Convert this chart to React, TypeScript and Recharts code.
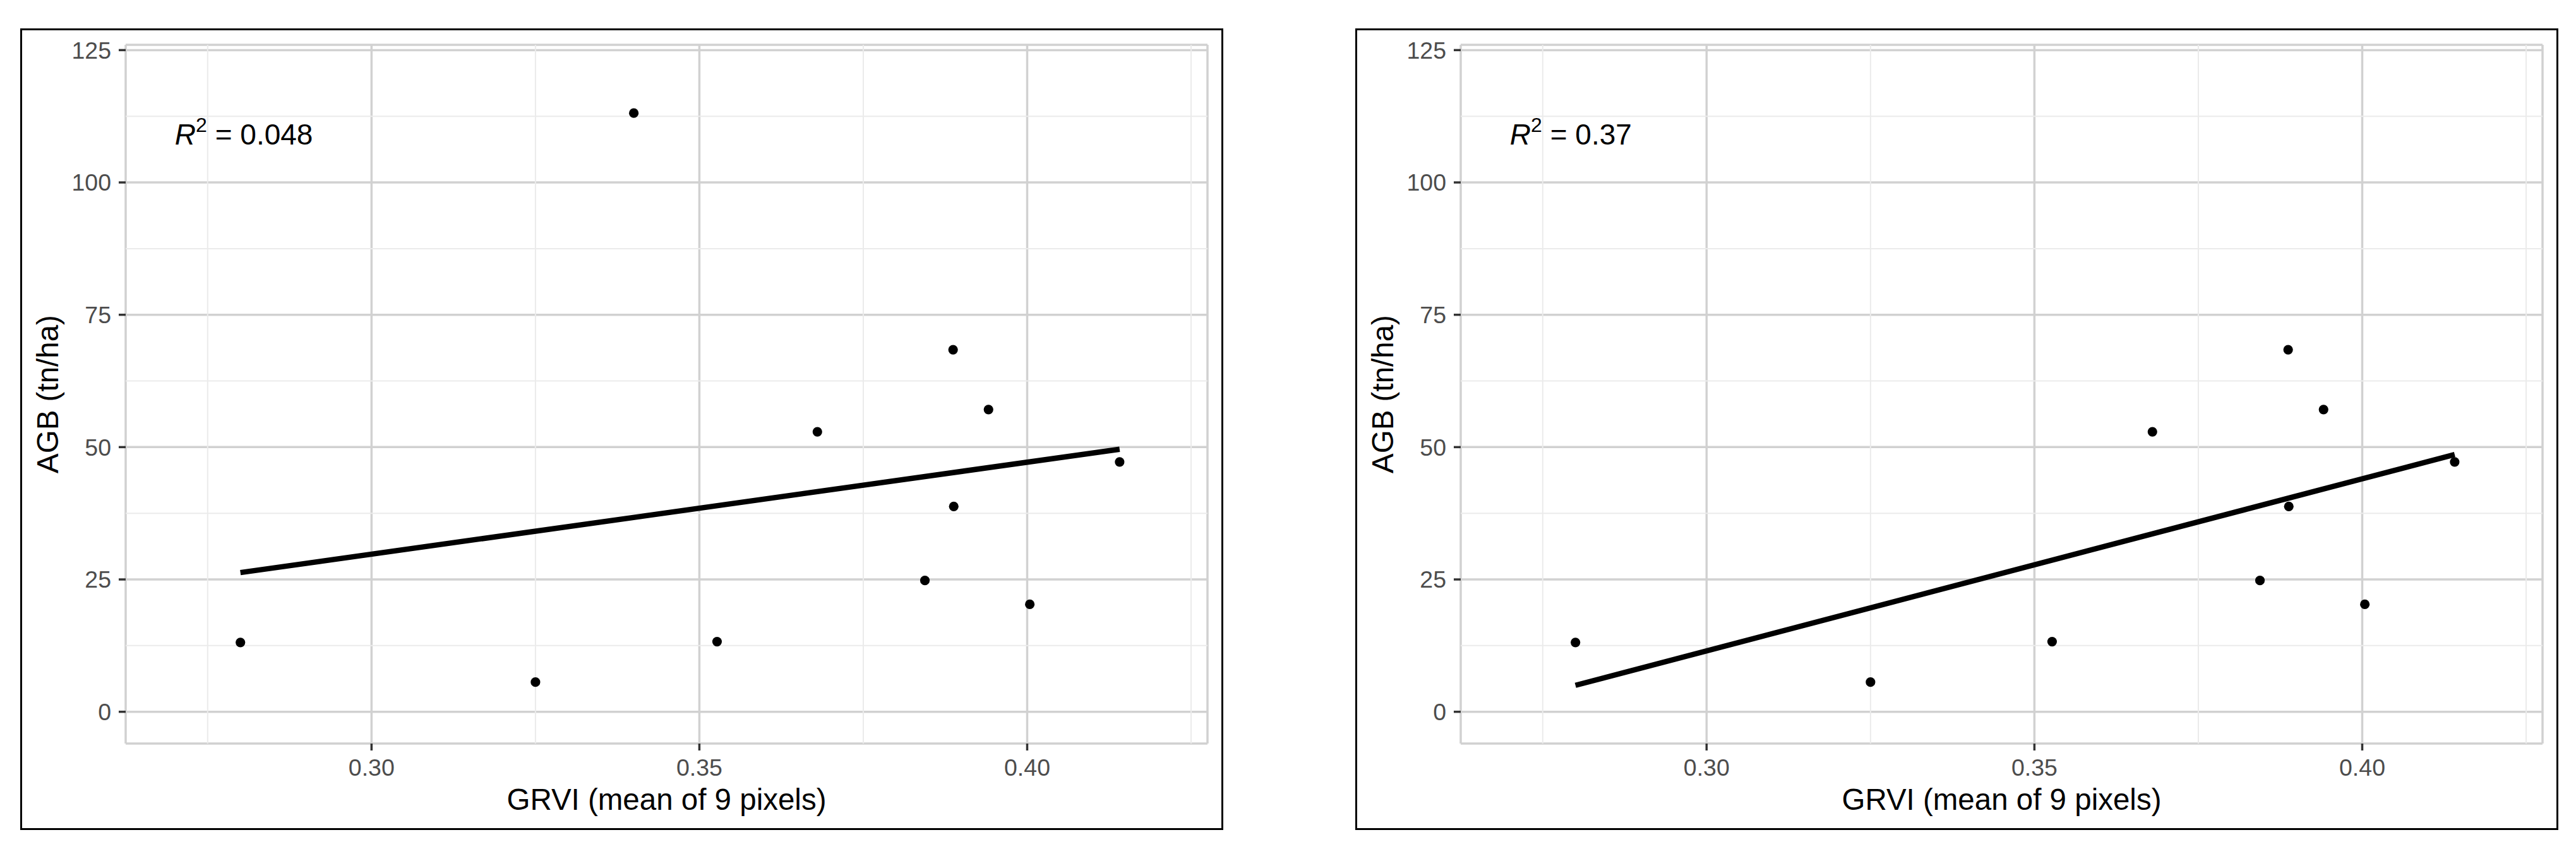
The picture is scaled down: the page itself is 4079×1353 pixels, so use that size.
import React from "react";
import {
  ScatterChart,
  Scatter,
  XAxis,
  YAxis,
  CartesianGrid,
  ReferenceLine,
  ReferenceDot,
} from "recharts";

// observations
const grvi = [0.28, 0.325, 0.34, 0.3527, 0.368, 0.3844, 0.3887, 0.3888, 0.3941, 0.4004, 0.4141];
const agb = [13.1, 5.6, 113.1, 13.25, 52.9, 24.8, 68.4, 38.8, 57.1, 20.3, 47.2];
// the right panel drops the outlier (0.34, 113.1)
const outlierIndex = 2;

// fitted line ends
const fitX = [0.28, 0.4141];
const fitAllY = [26.3, 49.6];
const fitSubY = [5.0, 48.6];

const r2Values = ["0.048", "0.37"];

const xTicks = [0.3, 0.35, 0.4];
const xMinor = [0.275, 0.325, 0.375, 0.425];
const yTicks = [0, 25, 50, 75, 100, 125];
const yMinor = [12.5, 37.5, 62.5, 87.5, 112.5];

const allPoints = grvi.map((x, i) => ({ x, y: agb[i] }));
const subPoints = allPoints.filter((_, i) => i !== outlierIndex);

const FONT = "'Liberation Sans', Arial, sans-serif";
const MAJOR = "#D1D1D1";
const MINOR = "#EBEBEB";

const W = 1901;
const H = 1266;

const XTitle = (props: any) => {
  const vb = props.viewBox;
  return (
    <text
      x={vb.x + vb.width / 2}
      y={vb.y + 105}
      textAnchor="middle"
      fontSize={47.5}
      fill="#000"
      fontFamily={FONT}
    >
      GRVI (mean of 9 pixels)
    </text>
  );
};

const YTitle = (props: any) => {
  const vb = props.viewBox;
  const x = vb.x + 58;
  const y = vb.y + vb.height / 2;
  return (
    <text
      x={x}
      y={y}
      transform={`rotate(-90, ${x}, ${y})`}
      textAnchor="middle"
      fontSize={47.5}
      fill="#000"
      fontFamily={FONT}
    >
      AGB (tn/ha)
    </text>
  );
};

const Panel = ({ points, fitY, r2 }: { points: { x: number; y: number }[]; fitY: number[]; r2: string }) => {
  const fit = fitX.map((x, i) => ({ x, y: fitY[i] }));
  return (
    <ScatterChart width={W} height={H} margin={{ top: 24, right: 23, bottom: 0, left: 0 }}>
      {xMinor.map((v) => (
        <ReferenceLine key={"vx" + v} x={v} stroke={MINOR} strokeWidth={2} />
      ))}
      {yMinor.map((v) => (
        <ReferenceLine key={"hy" + v} y={v} stroke={MINOR} strokeWidth={2} />
      ))}
      <CartesianGrid stroke={MAJOR} strokeWidth={3.5} />
      <XAxis
        type="number"
        dataKey="x"
        domain={[0.2625, 0.4275]}
        ticks={xTicks}
        allowDataOverflow
        tickFormatter={(v: number) => v.toFixed(2)}
        axisLine={false}
        tickLine={{ stroke: "#333333", strokeWidth: 3.5 }}
        tickSize={11}
        tickMargin={13}
        height={135}
        tick={{ fontSize: 37.5, fill: "#4D4D4D", fontFamily: FONT }}
        label={{ content: XTitle }}
      />
      <YAxis
        type="number"
        dataKey="y"
        domain={[-6, 126]}
        ticks={yTicks}
        allowDataOverflow
        axisLine={false}
        tickLine={{ stroke: "#333333", strokeWidth: 3.5 }}
        tickSize={11}
        tickMargin={12}
        width={165}
        tick={{ fontSize: 37.5, fill: "#4D4D4D", fontFamily: FONT }}
        label={{ content: YTitle }}
      />
      <Scatter
        data={points}
        isAnimationActive={false}
        fill="#000"
        shape={(p: any) => <circle cx={p.cx} cy={p.cy} r={7.6} fill="#000" />}
      />
      <Scatter
        data={fit}
        isAnimationActive={false}
        line={{ stroke: "#000", strokeWidth: 8.5 }}
        lineType="joint"
        shape={() => <g />}
      />
      <ReferenceDot
        x={0.27}
        y={110}
        r={0}
        shape={(p: any) => (
          <text x={p.cx} y={p.cy + 24} fontSize={46} fill="#000" fontFamily={FONT}>
            <tspan fontStyle="italic">R</tspan>
            <tspan fontSize={32} dy={-20}>2</tspan>
            <tspan dy={20}> = {r2}</tspan>
          </text>
        )}
      />
    </ScatterChart>
  );
};

const frame = (left: number): React.CSSProperties => ({
  position: "absolute",
  left,
  top: 47,
  width: W,
  height: H,
});

const border = (left: number): React.CSSProperties => ({
  position: "absolute",
  left: left - 2,
  top: 45,
  width: W - 2,
  height: H - 2,
  border: "3px solid #000",
  pointerEvents: "none",
});

export default function App() {
  return (
    <div
      style={{
        position: "absolute",
        left: 0,
        top: 0,
        width: 4079,
        height: 1353,
        background: "#fff",
        fontFamily: FONT,
        overflow: "hidden",
      }}
    >
      <div style={frame(34)}>
        <Panel points={allPoints} fitY={fitAllY} r2={r2Values[0]} />
      </div>
      <div style={border(34)} />
      <div style={frame(2148)}>
        <Panel points={subPoints} fitY={fitSubY} r2={r2Values[1]} />
      </div>
      <div style={border(2148)} />
    </div>
  );
}
